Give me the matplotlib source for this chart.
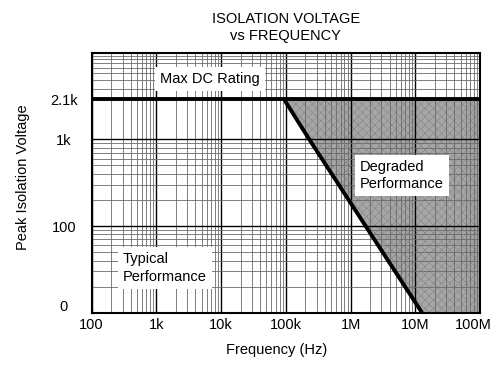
import matplotlib
matplotlib.use("Agg")
import matplotlib.pyplot as plt
from matplotlib.ticker import FixedLocator, LogLocator, NullFormatter
from matplotlib.transforms import ScaledTranslation
import numpy as np

plt.rcParams['font.family'] = ['Liberation Sans', 'DejaVu Sans']
plt.rcParams['font.size'] = 10.5
plt.rcParams['hatch.linewidth'] = 0.5

# data
max_dc_rating = 2100
edge_freq = [94e3, 230e3, 12.7e6, 1e8]
edge_volt = [2100, 1000, 10, 10]

x_ticks = [1e2, 1e3, 1e4, 1e5, 1e6, 1e7, 1e8]
x_labels = ['100', '1k', '10k', '100k', '1M', '10M', '100M']
y_ticks = [10, 100, 1000, 2100]
y_labels = ['0', '100', '1k', '2.1k']

# the printed y axis is log paper, with the 1k..2.1k span stretched
LOG_PTS = np.array([-10, 1, 3, np.log10(2100), 4, 20])
UNIT_PTS = np.array([-11, 0, 2, 2.461, 3, 19])


def fwd(v):
    v = np.clip(np.asarray(v, dtype=float), 1e-12, None)
    return np.interp(np.log10(v), LOG_PTS, UNIT_PTS)


def inv(u):
    return 10 ** np.interp(np.asarray(u, dtype=float), UNIT_PTS, LOG_PTS)


fig = plt.figure(figsize=(4.94, 3.66), dpi=100)
ax = fig.add_axes([0.1856, 0.1456, 0.7861, 0.7104])

ax.set_xscale('log')
ax.set_yscale('function', functions=(fwd, inv))
ax.set_xlim(1e2, 1e8)
ax.set_ylim(10, 10000)

# shaded "degraded" area and the two bold limit lines
ax.fill_between(edge_freq, edge_volt, max_dc_rating, facecolor='#a6a6a6',
                edgecolor='#8a8a8a', hatch='xxxx', linewidth=0, zorder=1)
ax.axhline(max_dc_rating, color='black', lw=2.8, zorder=3)
ax.plot(edge_freq[:3], edge_volt[:3], color='black', lw=2.8,
        solid_capstyle='butt', zorder=3)

ax.xaxis.set_major_locator(FixedLocator(x_ticks))
ax.set_xticklabels(x_labels)
ax.xaxis.set_minor_locator(LogLocator(base=10, subs=np.arange(2, 10)))
ax.xaxis.set_minor_formatter(NullFormatter())

ax.yaxis.set_major_locator(FixedLocator(y_ticks))
ax.set_yticklabels(y_labels)
y_minor = [m * 10 ** e for e in (1, 2, 3) for m in range(2, 10) if m * 10 ** e != 2000]
ax.yaxis.set_minor_locator(FixedLocator(y_minor))
ax.yaxis.set_minor_formatter(NullFormatter())

ax.grid(which='major', color='black', lw=1.0, zorder=1.5)
ax.grid(which='minor', color='#6a6a6a', lw=0.6, zorder=1.5)

ax.tick_params(which='both', length=0)
ax.tick_params(axis='x', pad=4)
ax.tick_params(axis='y', pad=20)
for lab in ax.get_yticklabels():
    lab.set_horizontalalignment('center')

# small nudges seen in the printed labels
lab0 = ax.yaxis.get_major_ticks()[0].label1
lab0.set_transform(lab0.get_transform() + ScaledTranslation(0, 5 / 72, fig.dpi_scale_trans))
lab_end = ax.xaxis.get_major_ticks()[-1].label1
lab_end.set_transform(lab_end.get_transform() + ScaledTranslation(-5 / 72, 0, fig.dpi_scale_trans))

for s in ax.spines.values():
    s.set_linewidth(1.5)

ax.set_title('ISOLATION VOLTAGE\nvs FREQUENCY', fontsize=10.5, pad=9, linespacing=1.3)
ax.set_xlabel('Frequency (Hz)')
ax.xaxis.set_label_coords(0.475, -0.117)
ax.set_ylabel('Peak Isolation Voltage')
ax.yaxis.set_label_coords(-0.158, 0.522)

box = dict(boxstyle='square,pad=0.35', fc='white', ec='none')
ax.text(0.3047, 0.899, 'Max DC Rating', transform=ax.transAxes,
        ha='center', va='center', bbox=box, zorder=4)
ax.text(0.0806, 0.172, 'Typical\nPerformance', transform=ax.transAxes,
        ha='left', va='center', linespacing=1.4, bbox=box, zorder=4)
ax.text(0.691, 0.528, 'Degraded\nPerformance', transform=ax.transAxes,
        ha='left', va='center', linespacing=1.25, bbox=box, zorder=4)

fig.savefig('out.png', dpi=100)
